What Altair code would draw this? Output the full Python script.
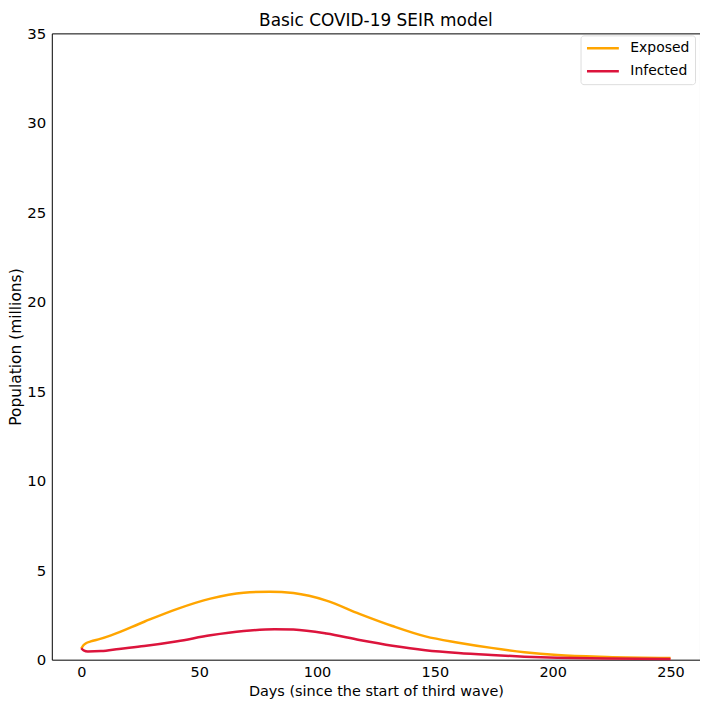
import altair as alt
import pandas as pd

series_names = ["Exposed", "Infected"]
series_colors = ["#FFA500", "#DC143C"]

exposed_days = [0, 1, 2, 4, 8, 12.6, 26.7, 40.8, 54.8, 68.9, 80, 90, 104, 118, 132, 146, 160, 174, 188, 202, 223, 250]
exposed_vals = [0.62, 0.82, 0.92, 1.02, 1.16, 1.36, 2.12, 2.84, 3.41, 3.74, 3.80, 3.72, 3.30, 2.56, 1.88, 1.30, 0.95, 0.66, 0.42, 0.26, 0.15, 0.09]

infected_days = [0, 1, 2.8, 8.4, 16, 26.7, 40.8, 54.8, 68.9, 82, 90, 104, 118, 132, 146, 160, 174, 188, 202, 223, 250]
infected_vals = [0.64, 0.52, 0.46, 0.48, 0.6, 0.76, 1.03, 1.36, 1.60, 1.70, 1.68, 1.46, 1.10, 0.78, 0.53, 0.37, 0.26, 0.17, 0.11, 0.06, 0.04]

x_ticks = [0, 50, 100, 150, 200, 250]
y_ticks = [0, 5, 10, 15, 20, 25, 30, 35]

df = pd.concat([
    pd.DataFrame({"day": exposed_days, "value": exposed_vals, "series": "Exposed", "order": range(len(exposed_days))}),
    pd.DataFrame({"day": infected_days, "value": infected_vals, "series": "Infected", "order": range(len(infected_days))}),
])

FONT = "DejaVu Sans"

chart = alt.Chart(df).mark_line(strokeWidth=2.5, interpolate="monotone").encode(
    x=alt.X("day:Q", scale=alt.Scale(domain=[-12.5, 262.5], nice=False, zero=False),
            axis=alt.Axis(values=x_ticks, title="Days (since the start of third wave)", grid=False,
                          ticks=False, domain=False, labelPadding=6, titlePadding=5,
                          labelFontSize=14.5, titleFontSize=14.5)),
    y=alt.Y("value:Q", scale=alt.Scale(domain=[0, 35], nice=False),
            axis=alt.Axis(values=y_ticks, title="Population (millions)", grid=False,
                          ticks=False, domain=False, labelPadding=6,
                          titleX=-36, titleBaseline="middle",
                          labelFontSize=15, titleFontSize=15.5)),
    color=alt.Color("series:N", scale=alt.Scale(domain=series_names, range=series_colors),
                    legend=alt.Legend(title=None, orient="none", legendX=531, legendY=2,
                                      symbolType="stroke", symbolSize=1024, symbolStrokeWidth=2.5,
                                      labelFontSize=14, labelFont=FONT, labelColor="black",
                                      labelOffset=10, padding=5, rowPadding=7, clipHeight=16,
                                      strokeColor="#dddddd", cornerRadius=3, fillColor="white")),
    order="order:Q",
).properties(
    width=651, height=629,
    title=alt.Title("Basic COVID-19 SEIR model", fontSize=17, font=FONT, fontWeight="normal",
                    color="black", offset=2, dy=6),
    autosize=alt.AutoSizeParams(type="none"),
    padding={"left": 44, "top": 24, "right": 0, "bottom": 39},
).configure_view(
    stroke="black", strokeWidth=1
).configure_axis(
    labelFont=FONT, titleFont=FONT,
    labelColor="black", titleColor="black", titleFontWeight="normal"
)

chart.save("out.html", embed_options={"renderer": "svg", "actions": False})
